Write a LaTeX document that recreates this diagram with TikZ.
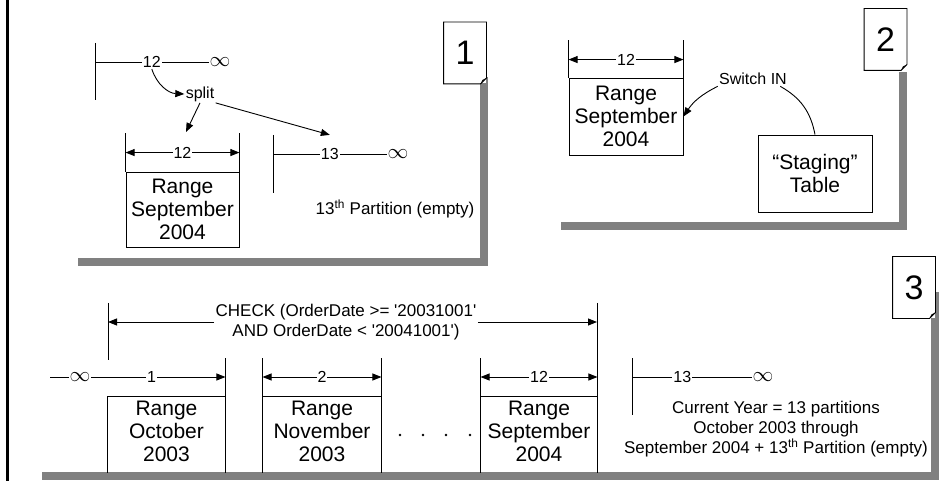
\documentclass[tikz,border=0pt]{standalone}
\usepackage{fontspec}
\setmainfont{Liberation Sans}
\usetikzlibrary{calc, arrows.meta, positioning}

\newcommand{\foldtag}[3]{%
  \node[tag] (#1) at (#2) {#3};
  \draw (#1.south west) -- (#1.north west) -- (#1.north east) -- ([yshift=6pt]#1.south east)
        -- ([xshift=-6pt]#1.south east) -- cycle;
  \fill ([yshift=6pt]#1.south east) -- ([xshift=-6pt]#1.south east) -- ([shift={(-4pt,4pt)}]#1.south east) -- cycle;
}

\begin{document}
\begin{tikzpicture}[
    x=1pt, y=-1pt,
    line width=0.9pt,
    >={Triangle[length=9pt,width=7pt]},
    lbl/.style={font=\fontsize{16}{18}\selectfont, fill=white, inner sep=1pt},
    inf/.style={font=\fontsize{21}{21}\selectfont, inner sep=0.5pt},
    note/.style={font=\fontsize{17}{20}\selectfont, align=center, inner sep=1pt},
    rng/.style={draw, minimum width=114pt, minimum height=77pt, align=center, inner sep=1pt, font=\fontsize{21}{23}\selectfont},
    rtxt/.style={anchor=north, align=center, inner xsep=1pt, inner ysep=5pt, font=\fontsize{21}{23}\selectfont},
    tag/.style={minimum width=42pt, minimum height=61pt, fill=white, inner sep=0pt, font=\fontsize{34}{34}\selectfont},
    shadow/.style={fill=black!50},
    panel/.style={fill=white}
  ]
  \useasboundingbox (0,0) rectangle (943,481);
  \draw[line width=3pt] (7.5,0) -- (7.5,481);

  % panels and their shadows
  \fill[shadow] (78,77) rectangle (488,266);
  \fill[panel] (70,69) rectangle (480,258);
  \fill[shadow] (561,72) rectangle (907,230);
  \fill[panel] (553,64) rectangle (899,222);
  \fill[shadow] (42,292) rectangle (939,480);
  \fill[panel] (34,284) rectangle (931,472);

  % 1: split
  \coordinate (a1) at (95,43);
  \coordinate (a2) at (95,100);
  \coordinate (a3) at (95,62);
  \draw (a1) -- (a2);
  \node[inf] (inf1) at (220,62) {$\infty$};
  \draw (a3) -- node[lbl] (l12) {12} (inf1);
  \node[lbl] (split) at (200,94) {split};
  \draw[->] (l12.south) to[bend right=35] (split.west);

  \node[rng, minimum width=113pt, minimum height=75pt] (b1) at (182.5,209.5) {Range\\September\\2004};
  \draw (b1.north west) -- ++(0,-39);
  \draw (b1.north east) -- ++(0,-39);
  \draw[<->] ([yshift=19pt]b1.north west) -- node[lbl] {12} ([yshift=19pt]b1.north east);
  \coordinate (c1) at (186,132);
  \draw[->] (split.south) -- (c1);

  \coordinate (d1) at (273,135);
  \coordinate (d2) at (273,193);
  \coordinate (d3) at (273,154);
  \draw (d1) -- (d2);
  \node[inf] (inf2) at (398,154) {$\infty$};
  \draw (d3) -- node[lbl] (l13) {13} (inf2);
  \draw[->] (split.south east) -- ([yshift=12pt]l13.north);
  \node[note] (e1) at (395,209) {13\textsuperscript{th} Partition (empty)};

  % 2: switch in
  \node[rng] (b2) at (626,116.5) {Range\\September\\2004};
  \draw (b2.north west) -- ++(0,-38);
  \draw (b2.north east) -- ++(0,-38);
  \draw[<->] ([yshift=18pt]b2.north west) -- node[lbl] {12} ([yshift=18pt]b2.north east);
  \node[lbl, fill=none] (sw) at (753,79) {Switch IN};
  \node[rng] (stg) at (815,173.5) {“Staging”\\Table};
  \draw[->] (sw.south west) to[bend right=15] (b2.east);
  \draw ([xshift=-8pt]sw.south east) to[bend left=25] (stg.north);

  % 3: current year
  \node[note] (chk) at (346,322) {CHECK (OrderDate >= \textquotesingle20031001\textquotesingle\\AND OrderDate < \textquotesingle20041001\textquotesingle)};
  \coordinate (cl1) at (108,303);
  \coordinate (cl2) at (108,360);
  \coordinate (cr1) at (597,303);
  \draw (cl1) -- (cl2);
  \draw (cr1) -- ++(0,60);
  \draw[->] (chk.west) -- (chk.west -| cl1);
  \draw[->] (chk.east) -- (chk.east -| cr1);

  \begin{scope}
    \clip (34,284) rectangle (931,472);
    \node[rtxt, minimum width=117pt] (p1) at (166.5,396) {Range\\October\\2003};
    \node[rtxt, minimum width=118pt] (p2) at (322,396) {Range\\November\\2003};
    \node[rtxt, minimum width=116pt] (p12) at (539,396) {Range\\September\\2004};
    \draw (p1.north west) -- (p1.north east);
    \draw (p1.north west) -- ++(0,90);
    \draw ([yshift=38pt]p1.north east) -- ++(0,130);
    \foreach \p in {p2, p12} {
      \draw (\p.north west) -- (\p.north east);
      \draw ([yshift=38pt]\p.north west) -- ++(0,130);
      \draw ([yshift=38pt]\p.north east) -- ++(0,130);
    }
  \end{scope}

  \coordinate (s1) at (50,377);
  \node[inf] (inf3) at (80,377) {$\infty$};
  \draw (s1) -- (inf3);
  \draw[->] (inf3) -- node[lbl, pos=0.45] {1} (inf3 -| p1.east);
  \draw[<->] ([yshift=19pt]p2.north west) -- node[lbl] {2} ([yshift=19pt]p2.north east);
  \draw[<->] ([yshift=19pt]p12.north west) -- node[lbl] {12} ([yshift=19pt]p12.north east);
  \foreach \x in {400,423,446,470} \fill (\x,435) circle (1.4pt);

  \coordinate (q1) at (632,358);
  \coordinate (q2) at (632,415);
  \draw (q1) -- (q2);
  \node[inf] (inf4) at (763,377) {$\infty$};
  \draw (q1 |- inf4) -- node[lbl, pos=0.42] {13} (inf4);
  \node[note] (cur) at (776,429) {Current Year = 13 partitions\\October 2003 through\\September 2004 + 13\textsuperscript{th} Partition (empty)};

  % tags
  \foldtag{t1}{465,53}{1}
  \foldtag{t2}{885.5,39.5}{2}
  \foldtag{t3}{914,287.5}{3}
\end{tikzpicture}
\end{document}
